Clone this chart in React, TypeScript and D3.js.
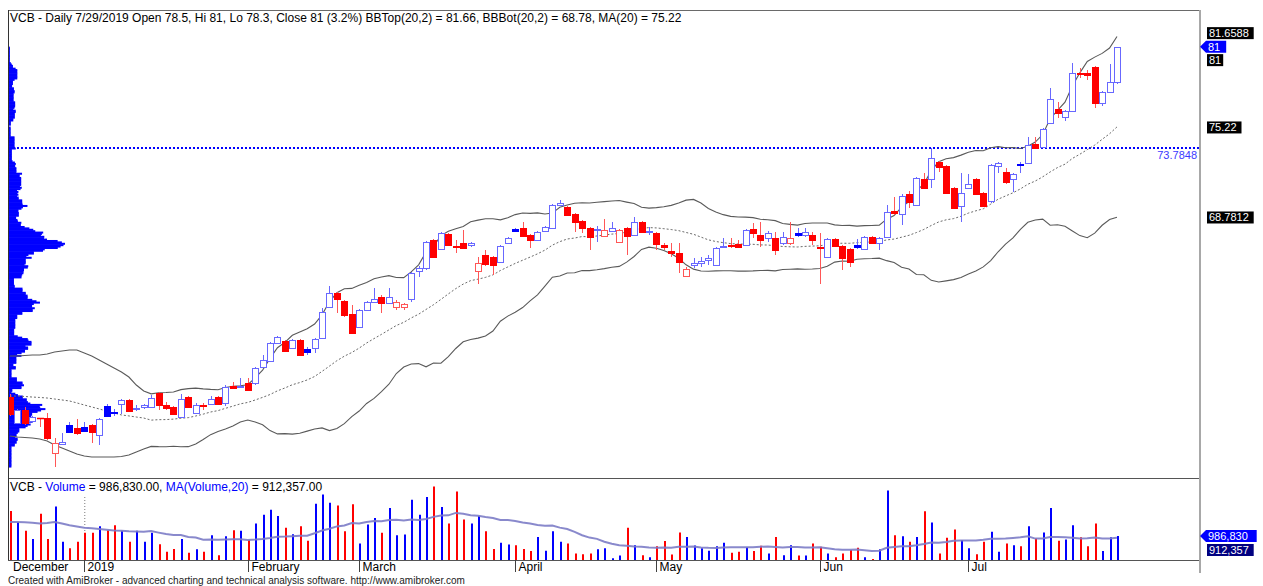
import * as d3 from "d3";
import { useEffect, useRef } from "react";

// VCB daily bars, 17 Dec 2018 .. 29 Jul 2019
const opens = [
  55.94, 54.08, 55.01, 54.23, 54.44, 54.44, 51.94, 52.58, 53.94, 53.73,
  53.80, 53.94, 53.23, 55.30, 54.87, 55.44, 55.73, 55.12, 55.23, 55.23,
  56.23, 55.37, 55.23, 54.51, 55.94, 54.80, 55.34, 55.44, 55.94, 55.52,
  56.73, 56.66, 56.94, 56.94, 58.09, 58.52, 59.80, 59.95, 59.45, 60.02,
  59.38, 59.45, 60.16, 62.38, 63.38, 62.81, 61.88, 60.95, 62.16, 62.74,
  63.09, 62.67, 62.38, 62.38, 62.95, 64.96, 65.18, 67.17, 66.53, 67.60,
  66.77, 66.96, 66.81, 64.96, 66.10, 65.95, 65.60, 66.96, 67.96, 68.03,
  67.53, 67.17, 67.81, 68.03, 69.67, 69.53, 69.03, 68.53, 68.03, 67.88,
  67.45, 67.81, 67.03, 68.03, 67.53, 68.46, 67.74, 67.67, 66.81, 66.38,
  66.24, 64.60, 65.38, 65.52, 65.74, 65.38, 66.67, 66.81, 66.88, 66.81,
  67.96, 67.53, 67.31, 67.31, 66.96, 66.96, 67.67, 67.53, 67.53, 66.70,
  65.95, 67.24, 66.74, 66.53, 66.81, 66.53, 67.38, 66.96, 67.38, 69.21,
  69.03, 70.47, 69.67, 71.53, 71.53, 72.76, 72.47, 70.89, 69.60, 70.89,
  71.53, 70.54, 69.96, 72.47, 72.04, 71.53, 72.61, 72.69, 74.04, 73.83,
  75.55, 76.55, 75.97, 76.40, 79.15, 79.08, 79.55, 76.97, 77.76, 78.5,
];
const highs = [
  56.16, 55.09, 55.23, 54.59, 54.44, 54.80, 53.01, 53.37, 54.16, 54.37,
  54.16, 54.01, 54.44, 55.44, 55.09, 55.80, 55.80, 55.37, 55.44, 56.08,
  56.30, 55.59, 55.30, 56.16, 56.01, 55.52, 55.52, 56.01, 56.01, 56.80,
  57.01, 57.30, 57.30, 58.09, 58.95, 59.88, 60.30, 60.02, 60.09, 60.09,
  59.52, 60.16, 62.31, 63.88, 63.45, 62.88, 62.52, 62.24, 62.81, 63.74,
  63.23, 63.74, 62.88, 62.67, 64.88, 65.32, 67.10, 67.24, 67.74, 67.67,
  67.17, 67.88, 67.03, 65.95, 66.45, 66.02, 66.81, 67.38, 68.03, 68.46,
  67.60, 67.81, 68.17, 69.74, 70.03, 69.60, 69.10, 68.60, 68.10, 68.17,
  68.67, 68.46, 67.96, 68.10, 68.82, 68.53, 68.10, 67.74, 66.96, 66.96,
  66.96, 65.24, 65.88, 65.95, 66.10, 66.67, 67.31, 67.31, 67.17, 67.96,
  68.39, 68.46, 67.81, 67.74, 67.74, 68.46, 68.03, 68.03, 67.74, 67.67,
  67.31, 67.31, 66.81, 66.60, 67.24, 67.45, 67.45, 67.38, 69.67, 70.25,
  70.47, 70.68, 71.68, 71.96, 73.76, 72.83, 72.54, 70.96, 71.96, 71.90,
  71.61, 70.61, 72.61, 72.76, 72.33, 71.96, 72.76, 74.54, 74.54, 75.19,
  78.05, 77.05, 76.47, 79.83, 79.48, 79.33, 79.62, 77.83, 79.76, 81,
];
const lows = [
  54.59, 54.01, 53.94, 54.16, 53.80, 52.87, 50.94, 52.51, 53.37, 53.23,
  53.51, 52.65, 52.51, 54.51, 54.59, 54.73, 54.87, 54.94, 55.09, 55.16,
  55.01, 55.01, 54.66, 54.44, 55.16, 54.73, 55.01, 55.37, 55.37, 55.30,
  56.59, 56.59, 56.37, 56.80, 58.02, 58.45, 59.73, 59.16, 59.38, 58.87,
  58.95, 59.09, 60.09, 62.31, 61.95, 61.66, 60.45, 60.88, 62.09, 62.67,
  61.95, 62.59, 62.16, 62.16, 62.74, 64.52, 65.03, 65.88, 66.45, 66.74,
  66.24, 66.53, 66.67, 64.02, 65.31, 64.67, 65.52, 66.88, 67.74, 67.38,
  66.60, 67.10, 67.74, 67.96, 69.60, 68.89, 67.74, 67.67, 66.45, 67.03,
  67.38, 67.74, 66.96, 66.10, 67.45, 67.67, 67.53, 66.45, 66.45, 65.95,
  64.81, 64.52, 65.17, 65.24, 65.38, 65.31, 66.60, 66.60, 66.60, 66.74,
  67.31, 66.67, 67.03, 66.10, 66.81, 66.81, 67.38, 67.38, 66.81, 64.02,
  65.88, 66.67, 65.03, 65.24, 66.53, 66.45, 66.88, 66.45, 67.31, 68.96,
  68.24, 69.46, 69.60, 70.82, 70.89, 72.04, 70.47, 69.39, 68.46, 70.82,
  70.40, 69.53, 69.82, 71.96, 71.18, 70.61, 71.96, 72.61, 73.69, 73.76,
  75.47, 75.90, 75.69, 76.33, 78.76, 78.62, 76.62, 76.76, 77.70, 78.3,
];
const closes = [
  54.73, 55.01, 54.08, 54.51, 54.41, 53.01, 52.65, 52.73, 53.44, 53.40,
  53.51, 53.47, 54.37, 54.55, 54.83, 55.73, 54.94, 55.16, 55.37, 55.87,
  55.37, 55.16, 54.73, 55.80, 55.23, 55.37, 55.30, 55.80, 55.44, 56.66,
  56.62, 56.73, 56.44, 58.02, 58.59, 59.80, 60.23, 59.23, 60.02, 58.95,
  59.16, 60.09, 62.02, 63.38, 62.95, 61.81, 60.52, 62.16, 62.74, 62.95,
  62.67, 63.09, 62.74, 62.59, 64.81, 65.18, 67.03, 65.95, 67.67, 66.81,
  66.70, 66.60, 66.96, 65.52, 65.45, 65.38, 66.74, 67.31, 67.81, 67.45,
  67.17, 67.74, 68.10, 69.67, 69.81, 68.96, 68.46, 68.03, 67.38, 67.96,
  67.92, 68.03, 67.88, 67.45, 68.46, 67.74, 67.81, 66.88, 66.70, 66.24,
  65.60, 65.10, 65.52, 65.67, 65.85, 66.60, 66.77, 66.74, 66.70, 67.88,
  67.67, 67.17, 67.67, 66.45, 67.38, 67.31, 67.53, 67.74, 67.17, 66.63,
  67.24, 66.74, 65.88, 65.60, 66.67, 67.38, 66.96, 67.31, 69.17, 69.10,
  70.32, 69.89, 71.61, 70.89, 73.04, 72.40, 70.54, 69.46, 70.54, 71.18,
  70.47, 69.60, 72.54, 72.69, 71.32, 71.90, 72.54, 73.97, 73.76, 75.12,
  77.26, 76.26, 76.40, 79.12, 79.05, 78.98, 76.97, 77.76, 78.5, 81,
];
// volume in thousands of shares
const volumesK = [
  2010, 1560, 1200, 860, 1900, 860, 2200, 750, 480, 750,
  1120, 1120, 1390, 1220, 1430, 1200, 750, 1200, 750, 1120,
  650, 340, 450, 860, 300, 440, 340, 1020, 200, 980,
  1220, 1200, 820, 1500, 1860, 2070, 1810, 1330, 1060, 1390,
  790, 2310, 2690, 2350, 2240, 1180, 2290, 680, 1460, 1730,
  1120, 2140, 1020, 1050, 2480, 1860, 2590, 3020, 2180, 1500,
  2820, 1660, 1500, 1810, 1180, 450, 710, 640, 610, 450,
  370, 950, 380, 1180, 750, 680, 270, 240, 270, 440,
  480, 70, 180, 1330, 610, 200, 110, 570, 780, 230,
  1130, 950, 600, 480, 380, 570, 710, 300, 340, 520,
  370, 590, 270, 950, 200, 610, 180, 180, 680, 540,
  270, 110, 270, 410, 500, 110, 40, 440, 2860, 1020,
  980, 750, 950, 2000, 1540, 270, 910, 1250, 820, 480,
  240, 750, 1160, 340, 680, 610, 570, 1390, 880, 1130,
  2140, 790, 840, 1430, 930, 570, 1500, 370, 930, 986.83,
];

// indicator values for the first 19 bars (their 20-day window starts before the chart)
const bbTopEarly = [58.87, 58.87, 58.91, 58.95, 58.95, 59.02, 59.16, 59.23, 59.30, 59.30, 59.09, 58.87, 58.59, 58.30, 58.02, 57.73, 57.37, 56.80, 56.37];
const maEarly = [56.01, 56.01, 55.98, 55.94, 55.91, 55.87, 55.80, 55.73, 55.66, 55.52, 55.37, 55.23, 55.09, 54.94, 54.80, 54.66, 54.59, 54.51, 54.44];
const bbBotEarly = [53.15, 53.08, 53.05, 53.01, 52.94, 52.80, 52.51, 52.30, 52.08, 51.87, 51.72, 51.65, 51.65, 51.65, 51.65, 51.69, 51.80, 52.01, 52.23];
const volMaEarlyK = [1560, 1560, 1550, 1530, 1500, 1520, 1560, 1500, 1430, 1380, 1330, 1300, 1270, 1240, 1210, 1200, 1180, 1170, 1160];

const monthLabels = ["December", "2019", "February", "March", "April", "May", "Jun", "Jul"];
const monthStartBars = [0, 10, 32, 47, 68, 87, 109, 129];

const refLevel = 73.7848;
const priceTitle = "VCB - Daily 7/29/2019 Open 78.5, Hi 81, Lo 78.3, Close 81 (3.2%) BBTop(20,2) = 81.66, BBBot(20,2) = 68.78, MA(20) = 75.22";
const volTitleParts = [
  { text: "VCB - ", blue: false },
  { text: "Volume", blue: true },
  { text: " = 986,830.00, ", blue: false },
  { text: "MA(Volume,20)", blue: true },
  { text: " = 912,357.00", blue: false },
];
const bbTopLabel = 81.6588;
const lastLabel = 81;
const maLabel = 75.22;
const bbBotLabel = 68.7812;
const volLabel = 986830;
const volMaLabel = 912357;
const footer = "Created with AmiBroker - advanced charting and technical analysis software. http://www.amibroker.com";

export default function App() {
  const svgRef = useRef<SVGSVGElement | null>(null);

  useEffect(() => {
    if (!svgRef.current) return;
    const svg = d3.select(svgRef.current);
    svg.selectAll("*").remove();

    const width = 1263;
    const height = 586;
    const left = 8;
    const right = 1199;
    const priceTop = 10;
    const priceBottom = 478;
    const volBottom = 560;
    const axisBottom = 573;
    const font = "'Liberation Sans', Arial, Helvetica, sans-serif";
    const n = closes.length;

    const x = d3.scaleLinear().domain([0, n - 1]).range([10, 1117]);
    const y = d3.scaleLinear().domain([50.15, 83.62]).range([priceBottom, priceTop]);
    const yv = d3.scaleLinear().domain([0, 3370000]).range([volBottom, priceBottom]);

    const bars = closes.map((c, i) => ({
      i, o: opens[i], h: highs[i], l: lows[i], c, v: volumesK[i] * 1000,
    }));

    // MA(20) and Bollinger bands (population st.dev, like AmiBroker)
    const ma = bars.map((_, i) => (i < 19 ? maEarly[i] : d3.mean(closes.slice(i - 19, i + 1))!));
    const sd = bars.map((_, i) => {
      if (i < 19) return 0;
      const w = closes.slice(i - 19, i + 1);
      return Math.sqrt(d3.mean(w, (v) => (v - ma[i]) ** 2)!);
    });
    const bbTop = bars.map((_, i) => (i < 19 ? bbTopEarly[i] : ma[i] + 2 * sd[i]));
    const bbBot = bars.map((_, i) => (i < 19 ? bbBotEarly[i] : ma[i] - 2 * sd[i]));
    const volMa = bars.map((_, i) =>
      i < 19 ? volMaEarlyK[i] * 1000 : d3.mean(volumesK.slice(i - 19, i + 1))! * 1000
    );

    svg.append("rect").attr("width", width).attr("height", height).attr("fill", "white");

    svg.append("defs").append("clipPath").attr("id", "pricePane")
      .append("rect").attr("x", left + 1).attr("y", priceTop + 1)
      .attr("width", right - left - 1).attr("height", priceBottom - priceTop - 1);

    const pane = svg.append("g").attr("clip-path", "url(#pricePane)");

    // volume at price histogram
    const lo = d3.min(lows)!;
    const hi = d3.max(highs)!;
    const nBins = 300;
    const step = (hi - lo) / nBins;
    const vap = new Array(nBins).fill(0);
    bars.forEach((d) => {
      const b0 = Math.max(0, Math.floor((d.l - lo) / step));
      const b1 = Math.min(nBins - 1, Math.floor((d.h - lo) / step));
      const k = b1 - b0 + 1;
      for (let b = b0; b <= b1; b++) vap[b] += d.v / k;
    });
    const wv = d3.scaleLinear().domain([0, d3.max(vap)!]).range([0, 56]);
    pane.append("g").selectAll("rect").data(vap).enter().append("rect")
      .attr("x", left + 1)
      .attr("y", (_, b) => y(lo + (b + 1) * step))
      .attr("width", (v) => wv(v))
      .attr("height", y(lo) - y(lo + step) + 0.6)
      .attr("fill", "#0000ff");

    // reference level
    pane.append("line")
      .attr("x1", left + 1).attr("x2", right)
      .attr("y1", Math.round(y(refLevel))).attr("y2", Math.round(y(refLevel)))
      .attr("stroke", "#0000ff").attr("stroke-width", 2).attr("stroke-dasharray", "2,2");

    // bands
    const bandLine = (vals: number[]) =>
      d3.line<number>().x((_, i) => x(i)).y((v) => y(v))(vals);
    pane.append("path").attr("d", bandLine(bbTop)).attr("fill", "none")
      .attr("stroke", "#5a5a5a").attr("stroke-width", 1.1);
    pane.append("path").attr("d", bandLine(bbBot)).attr("fill", "none")
      .attr("stroke", "#5a5a5a").attr("stroke-width", 1.1);
    pane.append("path").attr("d", bandLine(ma)).attr("fill", "none")
      .attr("stroke", "#6a6a6a").attr("stroke-width", 1).attr("stroke-dasharray", "2,2");

    // candles
    const candles = pane.append("g");
    bars.forEach((d, i) => {
      const prev = i === 0 ? d.o : closes[i - 1];
      const up = d.c >= prev;
      const filled = d.c < d.o;
      const base = up ? "#0000ff" : "#ff0000";
      const soft = up ? "#6868ff" : "#ff5656";
      const a = Math.round(x(i) - 3);
      const wx = a + 3.5;
      candles.append("line")
        .attr("x1", wx).attr("x2", wx)
        .attr("y1", Math.round(y(d.h))).attr("y2", Math.round(y(d.l)))
        .attr("stroke", soft).attr("stroke-width", 1);
      const yTop = Math.round(y(Math.max(d.o, d.c)));
      const yBot = Math.round(y(Math.min(d.o, d.c)));
      const hgt = yBot - yTop;
      if (hgt < 1) {
        candles.append("line")
          .attr("x1", a).attr("x2", a + 7)
          .attr("y1", yTop + 0.5).attr("y2", yTop + 0.5)
          .attr("stroke", filled ? base : soft).attr("stroke-width", 1.5);
      } else {
        candles.append("rect")
          .attr("x", a + 0.5).attr("y", yTop + 0.5)
          .attr("width", 6).attr("height", hgt)
          .attr("fill", filled ? base : "white")
          .attr("stroke", filled ? base : soft).attr("stroke-width", 1);
      }
    });

    // volume pane
    svg.append("line")
      .attr("x1", x(monthStartBars[1]) + 0.5).attr("x2", x(monthStartBars[1]) + 0.5)
      .attr("y1", 497).attr("y2", volBottom)
      .attr("stroke", "#7a7a7a").attr("stroke-dasharray", "1,2");
    svg.append("g").selectAll("line").data(bars).enter().append("line")
      .attr("x1", (d) => Math.round(x(d.i)) + 1).attr("x2", (d) => Math.round(x(d.i)) + 1)
      .attr("y1", yv(0)).attr("y2", (d) => yv(d.v))
      .attr("stroke", (d) => (d.c > d.o ? "#0000ff" : "#ff0000"))
      .attr("stroke-width", 2);
    svg.append("path")
      .attr("d", d3.line<number>().x((_, i) => x(i)).y((v) => yv(v))(volMa))
      .attr("fill", "none").attr("stroke", "#7c7cc6").attr("stroke-width", 2)
      .attr("stroke-opacity", 0.9);

    // frame
    const frame = svg.append("g").attr("shape-rendering", "crispEdges");
    frame.append("line").attr("x1", left).attr("x2", right).attr("y1", priceTop + 0.5).attr("y2", priceTop + 0.5).attr("stroke", "#6a6a6a");
    frame.append("line").attr("x1", left).attr("x2", right).attr("y1", priceBottom + 0.5).attr("y2", priceBottom + 0.5).attr("stroke", "#555");
    frame.append("line").attr("x1", left).attr("x2", right).attr("y1", volBottom + 0.5).attr("y2", volBottom + 0.5).attr("stroke", "#555");
    frame.append("line").attr("x1", left + 0.5).attr("x2", left + 0.5).attr("y1", priceTop).attr("y2", volBottom).attr("stroke", "#333");
    frame.append("line").attr("x1", right + 0.5).attr("x2", right + 0.5).attr("y1", priceTop).attr("y2", axisBottom).attr("stroke", "#a8a8a8").attr("stroke-width", 2);

    // date axis
    const dates = svg.append("g").attr("font-family", font).attr("font-size", 12);
    monthStartBars.forEach((b, k) => {
      const tx = Math.round(x(b)) + 0.5;
      if (k > 0) {
        dates.append("line").attr("x1", tx).attr("x2", tx).attr("y1", volBottom).attr("y2", axisBottom - 1)
          .attr("stroke", "#404040").attr("shape-rendering", "crispEdges");
      }
      dates.append("text").attr("x", k === 0 ? 13 : tx + 3).attr("y", 571).attr("fill", "black").text(monthLabels[k]);
    });

    // titles
    svg.append("text").attr("x", 10).attr("y", 22).attr("font-family", font).attr("font-size", 12)
      .attr("fill", "black").text(priceTitle);
    const vt = svg.append("text").attr("x", 10).attr("y", 491).attr("font-family", font).attr("font-size", 12);
    volTitleParts.forEach((p) => vt.append("tspan").attr("fill", p.blue ? "#0000ff" : "black").text(p.text));

    svg.append("text").attr("x", 1197).attr("y", 159).attr("text-anchor", "end")
      .attr("font-family", font).attr("font-size", 11).attr("fill", "#3a3aff").text(String(refLevel));

    // axis value labels
    const axisG = svg.append("g").attr("font-family", font).attr("font-size", 11);
    const boxLabel = (text: string, cy: number, fill: string) => {
      const w = text.length * 6.1 + 4;
      axisG.append("rect").attr("x", 1207).attr("y", cy - 6).attr("width", w).attr("height", 12).attr("fill", fill);
      axisG.append("text").attr("x", 1209).attr("y", cy + 4).attr("fill", "white").text(text);
    };
    const arrowLabel = (text: string, cy: number, fill: string) => {
      const w = text.length * 6.1 + 8;
      axisG.append("path")
        .attr("d", `M${right + 1},${cy} L${right + 7},${cy - 6} L${right + 7 + w},${cy - 6} L${right + 7 + w},${cy + 6} L${right + 7},${cy + 6} Z`)
        .attr("fill", fill);
      axisG.append("text").attr("x", right + 9).attr("y", cy + 4).attr("fill", "white").text(text);
    };
    const fmt = d3.format(",");
    const yLast = y(lastLabel);
    boxLabel(String(bbTopLabel), Math.min(y(bbTopLabel), yLast - 13.5), "black");
    boxLabel(String(lastLabel), yLast + 13.5, "black");
    arrowLabel(String(lastLabel), yLast, "#0000ff");
    boxLabel(String(maLabel), y(maLabel), "black");
    boxLabel(String(bbBotLabel), y(bbBotLabel), "black");
    const yVol = yv(volLabel);
    arrowLabel(fmt(volLabel), yVol, "#0000ff");
    boxLabel(fmt(volMaLabel), Math.max(yv(volMaLabel), yVol + 14), "#000080");

    svg.append("text").attr("x", 8).attr("y", 584).attr("font-family", font).attr("font-size", 10)
      .attr("fill", "#222").text(footer);
  }, []);

  return <svg ref={svgRef} width={1263} height={586} style={{ display: "block", position: "absolute", left: 0, top: 0 }} />;
}
